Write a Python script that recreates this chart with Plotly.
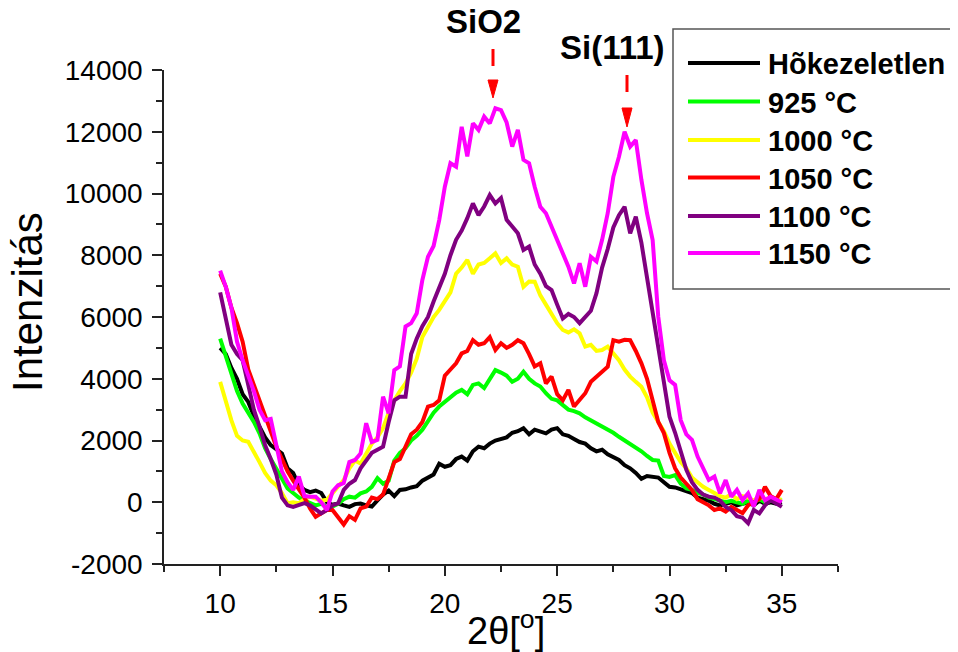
import plotly.graph_objects as go

# ---------------- data ----------------
two_theta = [10.0, 10.25, 10.5, 10.75, 11.0, 11.25, 11.5, 11.75, 12.0, 12.25, 12.5, 12.75,
             13.0, 13.25, 13.5, 13.75, 14.0, 14.25, 14.5, 14.75, 15.0, 15.25, 15.5, 15.75,
             16.0, 16.25, 16.5, 16.75, 17.0, 17.25, 17.5, 17.75, 18.0, 18.25, 18.5, 18.75,
             19.0, 19.25, 19.5, 19.75, 20.0, 20.25, 20.5, 20.75, 21.0, 21.25, 21.5, 21.75,
             22.0, 22.25, 22.5, 22.75, 23.0, 23.25, 23.5, 23.75, 24.0, 24.25, 24.5, 24.75,
             25.0, 25.25, 25.5, 25.75, 26.0, 26.25, 26.5, 26.75, 27.0, 27.25, 27.5, 27.75,
             28.0, 28.25, 28.5, 28.75, 29.0, 29.25, 29.5, 29.75, 30.0, 30.25, 30.5, 30.75,
             31.0, 31.25, 31.5, 31.75, 32.0, 32.25, 32.5, 32.75, 33.0, 33.25, 33.5, 33.75,
             34.0, 34.25, 34.5, 34.75, 35.0]

series_names = ["Hõkezeletlen", "925 °C", "1000 °C", "1050 °C", "1100 °C", "1150 °C"]

hokezeletlen = [5000, 4800, 4350, 4000, 3500, 3250, 2800, 2450, 2100, 1850, 1700, 1580,
                1100, 950, 550, 400, 330, 380, 300, 0, -80, -40, -100, -150,
                -60, -40, -100, -140, 60, 250, 380, 200, 400, 420, 480, 520,
                700, 800, 900, 1250, 1150, 1200, 1400, 1480, 1350, 1650, 1800, 1750,
                1900, 2000, 2050, 2100, 2250, 2300, 2400, 2200, 2350, 2300, 2230, 2350,
                2400, 2200, 2150, 2050, 1950, 1900, 1750, 1650, 1700, 1550, 1450, 1370,
                1200, 1100, 950, 760, 850, 830, 800, 650, 500, 480, 420, 380,
                300, 150, 100, 50, -50, -100, -50, 0, -100, -50, 0, -100,
                50, -50, 0, -50, 0]

t925 = [5300, 4700, 4150, 3600, 3200, 2900, 2600, 2230, 1750, 1400, 1100, 800,
        450, 300, 150, 50, -30, -100, -50, -150, -140, -50, 100, 180,
        150, 290, 350, 500, 780, 600, 700, 1350, 1600, 1750, 2000, 2150,
        2350, 2650, 2900, 3100, 3250, 3400, 3550, 3640, 3500, 3800, 3850, 3700,
        4000, 4280, 4200, 4100, 3900, 4000, 4230, 4000, 3850, 3750, 3530, 3350,
        3300, 3150, 3000, 2950, 2880, 2750, 2650, 2560, 2450, 2350, 2250, 2120,
        2000, 1900, 1780, 1650, 1500, 1370, 1350, 850, 820, 880, 600, 450,
        400, 300, 250, 150, 100, 50, 0, 50, 0, -50, 50, 0,
        100, 0, 50, 100, 50]

t1000 = [3900, 3250, 2650, 2150, 2000, 1960, 1650, 1300, 950, 700, 550, 300,
         -30, 0, -30, 100, 180, 120, 50, 80, 300, 500, 720, 1100,
         1350, 1250, 1600, 1900, 2100, 2400, 2900, 3300, 3600, 3850, 4200, 4650,
         5350, 5700, 6000, 6230, 6500, 6800, 7400, 7600, 7850, 7400, 7700, 7750,
         7900, 8060, 7750, 7900, 7700, 7630, 6980, 7150, 7140, 6700, 6400, 6120,
         5800, 5580, 5500, 5600, 5470, 5040, 5100, 4900, 4930, 5040, 4800, 4600,
         4300, 4070, 3900, 3740, 3400, 2900, 2600, 2300, 1900, 1600, 1300, 1100,
         800, 650, 500, 400, 290, 200, 150, 250, 100, 200, 150, 50,
         200, 100, 150, 50, 100]

t1050 = [7400, 6980, 6300, 5800, 5200, 4300, 3800, 3300, 2800, 2300, 1800, 1400,
         1000, 700, 450, 150, -200, -470, -360, -250, -250, -500, -720, -450,
         -570, -200, -140, 150, 100, 250, 820, 1300, 1400, 1800, 2200, 2350,
         2600, 3100, 3150, 3300, 4100, 4300, 4500, 4820, 4900, 5250, 5100, 5150,
         5350, 4930, 5150, 5000, 5100, 5250, 5150, 4800, 4400, 4500, 3850, 4070,
         3500, 3300, 3640, 3100, 3300, 3530, 3900, 4070, 4200, 4390, 5250, 5200,
         5260, 5250, 4900, 4500, 4000, 3300, 2600, 2240, 1600, 1100, 800, 600,
         400, 100, 0, -100, -250, -200, -300, -150, -250, -350, -100, 0,
         100, 500, 200, 100, 400]

t1100 = [6800, 5900, 5100, 4800, 4600, 3800, 3000, 2450, 1850, 1400, 900, 150,
         -100, -150, -80, -30, -100, -250, -360, -250, -100, -40, 400, 600,
         720, 1100, 1370, 1600, 1700, 1800, 2600, 3300, 3420, 3420, 4800, 5300,
         5700, 6000, 6500, 6980, 7400, 8000, 8500, 8800, 9200, 9680, 9300, 9580,
         9950, 9680, 9850, 9150, 8950, 8710, 8170, 8280, 7700, 7400, 7000, 6870,
         6400, 5950, 6100, 6000, 5800, 6000, 6200, 6770, 7600, 8200, 8900, 9300,
         9570, 8710, 9250, 8400, 7300, 6200, 4900, 3800, 2770, 2250, 1600, 1050,
         650, 400, 250, 180, 150, 50, -150, -250, -450, -500, -680, -250,
         -360, -100, 70, -50, -150]

t1150 = [7500, 6980, 6300, 5200, 4600, 4100, 3600, 3000, 2660, 2700, 1900, 1000,
         650, 400, 830, 200, 180, 180, 0, -250, 350, 550, 620, 1300,
         1370, 1580, 2560, 1950, 2020, 3420, 2880, 4280, 4400, 5690, 5800, 6120,
         7200, 7950, 8300, 9140, 10220, 10980, 10870, 12160, 11200, 12270, 12060, 12490,
         12270, 12760, 12700, 12300, 11520, 12060, 11090, 10980, 10220, 9570, 9360, 8920,
         8500, 8060, 7630, 7090, 7740, 6980, 7950, 7800, 8500, 9360, 10540, 11190,
         12000, 11520, 11730, 10440, 9360, 8490, 6010, 4600, 3950, 3800, 2660, 2200,
         2020, 1480, 1100, 720, 830, 290, 720, 180, 400, 70, 290, -140,
         400, 70, 180, 100, 0]

series_values = [hokezeletlen, t925, t1000, t1050, t1100, t1150]
series_colors = ["#000000", "#00FF00", "#FFFF00", "#FF0000", "#800080", "#FF00FF"]

x_ticks = [10, 15, 20, 25, 30, 35]
y_ticks = [-2000, 0, 2000, 4000, 6000, 8000, 10000, 12000, 14000]
y_tick_text = ["-2000", "0", "2000", "4000", "6000", "8000", "10000", "12000", "14000"]

peak_labels = ["SiO2", "Si(111)"]

# ---------------- layout helpers ----------------
OFF = 8                      # page body margin of the html page
W, H = 958 - OFF, 652 - OFF
L, R, T, B = 164, 838, 70, 564   # plot area in reference (window) pixels


def pxx(p):
    return (p - L) / (R - L)


def pxy(p):
    return (B - p) / (B - T)


FONT = "Liberation Sans, Arial, sans-serif"

fig = go.Figure()
for name, vals, col in zip(series_names, series_values, series_colors):
    fig.add_trace(go.Scatter(x=two_theta, y=vals, mode="lines", name=name,
                             line=dict(color=col, width=4), showlegend=False))

shapes = []
annotations = []

# custom legend (box, line samples, labels)
shapes.append(dict(type="rect", xref="paper", yref="paper",
                   x0=pxx(673), x1=pxx(962), y0=pxy(289), y1=pxy(29),
                   line=dict(color="#555555", width=1.5), fillcolor="white", layer="above"))
row_y = [63, 101.5, 140, 177.5, 216, 253]
for name, col, ry in zip(series_names, series_colors, row_y):
    shapes.append(dict(type="line", xref="paper", yref="paper",
                       x0=pxx(688), x1=pxx(760), y0=pxy(ry), y1=pxy(ry),
                       line=dict(color=col, width=4), layer="above"))
    annotations.append(dict(xref="paper", yref="paper", x=pxx(766), y=pxy(ry + 1),
                            text="<b>%s</b>" % name, showarrow=False,
                            xanchor="left", yanchor="middle",
                            font=dict(family=FONT, size=29, color="black")))

# peak markers (dashed red arrows)
peak_px = [(493, 483, 22, 49, 66, 80, 98), (627, 612, 48, 75, 92, 108, 127)]
for lab, (xp, tx, ty, d0, d1, h0, h1) in zip(peak_labels, peak_px):
    annotations.append(dict(xref="paper", yref="paper", x=pxx(tx), y=pxy(ty),
                            text="<b>%s</b>" % lab, showarrow=False,
                            xanchor="center", yanchor="middle",
                            font=dict(family=FONT, size=33, color="black")))
    shapes.append(dict(type="line", xref="paper", yref="paper",
                       x0=pxx(xp), x1=pxx(xp), y0=pxy(d0), y1=pxy(d1),
                       line=dict(color="#FF0000", width=3)))
    path = "M %f %f L %f %f L %f %f Z" % (pxx(xp - 5), pxy(h0), pxx(xp + 5), pxy(h0),
                                         pxx(xp), pxy(h1))
    shapes.append(dict(type="path", xref="paper", yref="paper", path=path,
                       fillcolor="#FF0000", line=dict(color="#FF0000", width=1)))

# axis titles
annotations.append(dict(xref="paper", yref="paper", x=pxx(27), y=pxy(302),
                        text="Intenzitás", textangle=-90, showarrow=False,
                        xanchor="center", yanchor="middle",
                        font=dict(family=FONT, size=42, color="black")))
annotations.append(dict(xref="paper", yref="paper", x=pxx(506), y=pxy(628),
                        text="2θ[<sup>o</sup>]", showarrow=False,
                        xanchor="center", yanchor="middle",
                        font=dict(family=FONT, size=38, color="black")))

axis_common = dict(showgrid=False, zeroline=False, showline=True, linecolor="#222222",
                   linewidth=1.5, ticks="outside", ticklen=10, tickwidth=1.5,
                   tickcolor="#222222", tickfont=dict(family=FONT, size=28, color="black"))

fig.update_layout(
    width=W, height=H,
    margin=dict(l=L - OFF, r=958 - R, t=T - OFF, b=652 - B, pad=0),
    paper_bgcolor="white", plot_bgcolor="white",
    xaxis=dict(range=[7.5, 37.5], tickvals=x_ticks, ticklabelstandoff=4,
               minor=dict(dtick=2.5, ticks="outside", ticklen=6, tickwidth=1.5,
                          tickcolor="#222222"),
               **axis_common),
    yaxis=dict(range=[-2000, 14000], tickvals=y_ticks, ticktext=y_tick_text,
               ticklabelstandoff=4,
               minor=dict(dtick=1000, ticks="outside", ticklen=6, tickwidth=1.5,
                          tickcolor="#222222"),
               **axis_common),
    shapes=shapes,
    annotations=annotations,
    showlegend=False,
)

fig.write_html("out.html")
